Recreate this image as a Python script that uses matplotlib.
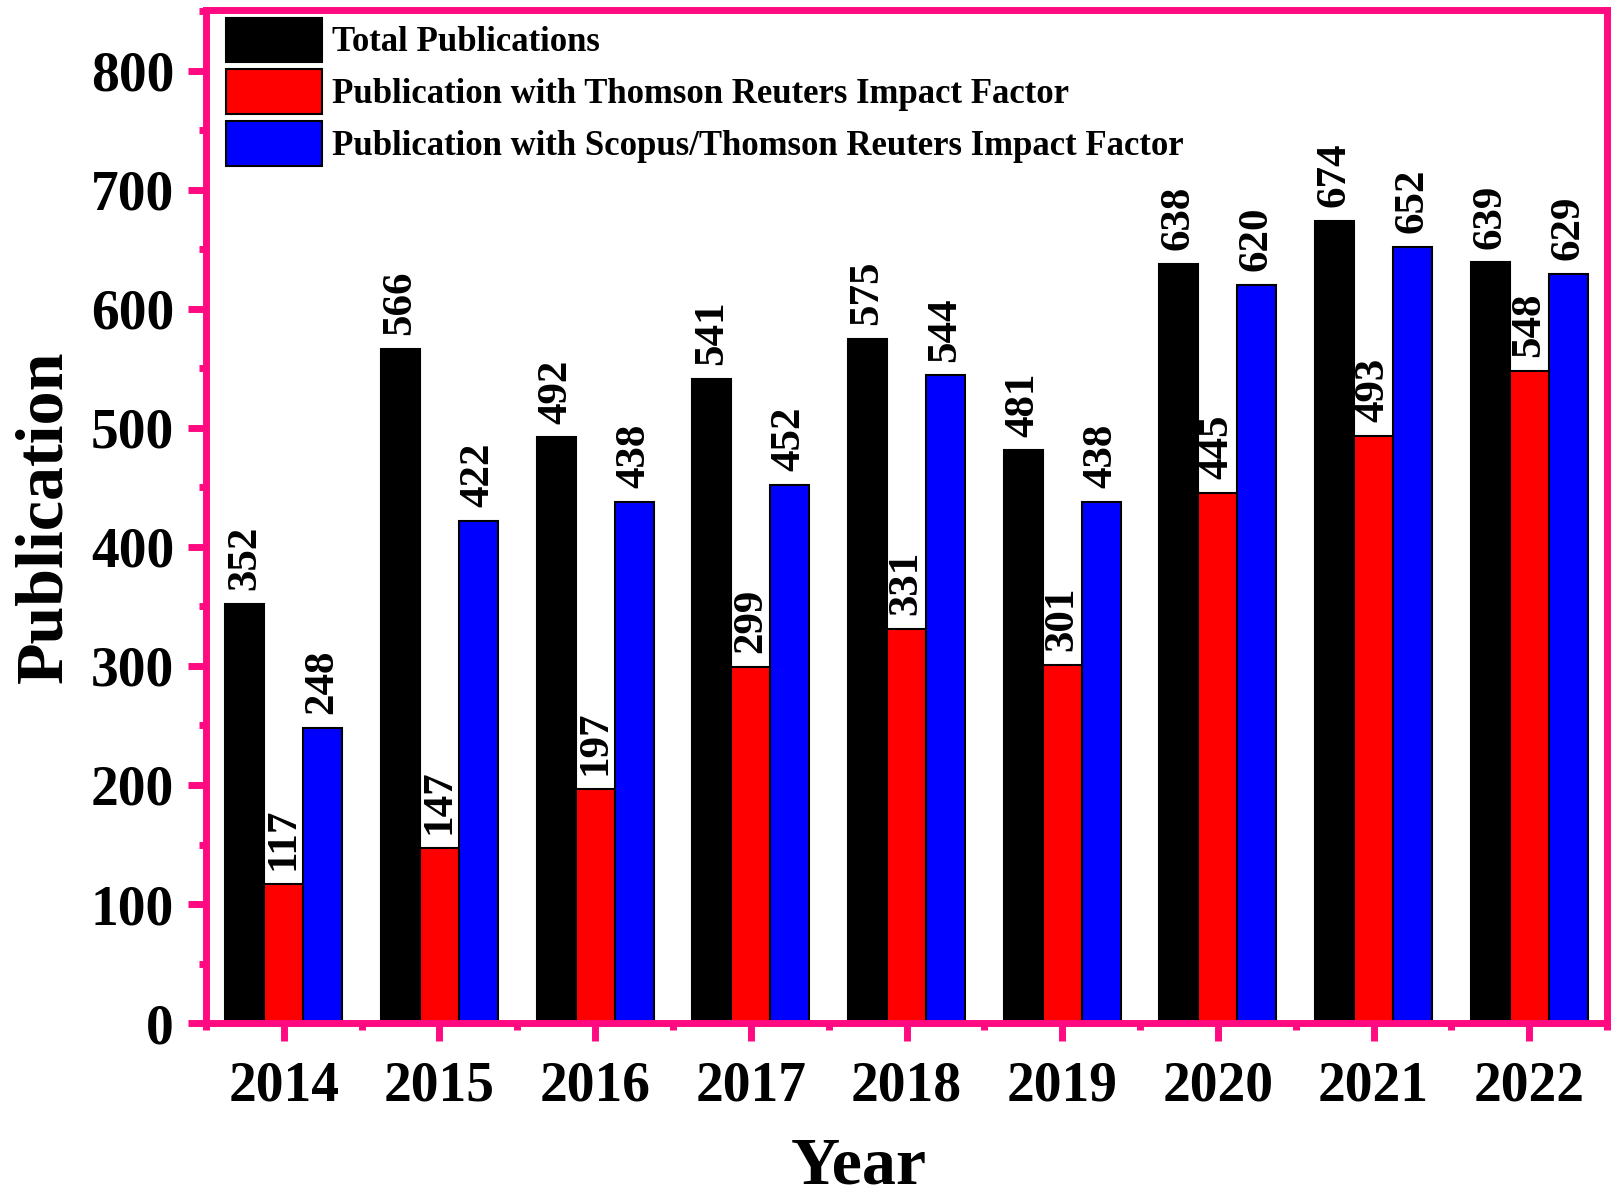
import matplotlib.pyplot as plt
import numpy as np
from matplotlib.ticker import MultipleLocator

plt.rcParams['font.family'] = ['Liberation Serif', 'DejaVu Serif']
plt.rcParams['font.weight'] = 'bold'

years = ['2014', '2015', '2016', '2017', '2018', '2019', '2020', '2021', '2022']
total = [352, 566, 492, 541, 575, 481, 638, 674, 639]
thomson = [117, 147, 197, 299, 331, 301, 445, 493, 548]
scopus = [248, 422, 438, 452, 544, 438, 620, 652, 629]

pink = '#FF0A80'
x = np.arange(len(years))
w = 0.25

fig = plt.figure(figsize=(16.14, 11.96), dpi=100)
ax = fig.add_axes([0.1276, 0.1446, 0.8681, 0.847])

series = [(total, 'black', 'Total Publications'),
          (thomson, 'red', 'Publication with Thomson Reuters Impact Factor'),
          (scopus, 'blue', 'Publication with Scopus/Thomson Reuters Impact Factor')]
for i, (vals, col, lab) in enumerate(series):
    bars = ax.bar(x + (i - 1) * w, vals, w, color=col, edgecolor='black',
                  linewidth=1.5, label=lab)
    ax.bar_label(bars, padding=10, rotation=90, fontsize=31, fontweight='bold')

ax.set_xlim(-0.5, 8.5)
ax.set_ylim(0, 851)
ax.set_xticks(x)
ax.set_xticklabels(years)
ax.xaxis.set_minor_locator(MultipleLocator(0.5))
ax.yaxis.set_major_locator(MultipleLocator(100))
ax.yaxis.set_minor_locator(MultipleLocator(50))

for s in ax.spines.values():
    s.set_color(pink)
    s.set_linewidth(5)
ax.tick_params(which='major', direction='out', length=13, width=5, color=pink,
               labelsize=40, pad=10)
ax.tick_params(which='minor', direction='out', length=5, width=5, color=pink)
ax.tick_params(axis='x', which='major', pad=14)

ax.set_xlabel('Year', fontsize=49, fontweight='bold')
ax.xaxis.set_label_coords(0.466, -0.112)
ax.set_ylabel('Publication', fontsize=49, fontweight='bold', labelpad=11)

ax.legend(loc='upper left', bbox_to_anchor=(0.0143, 0.9926), frameon=False,
          handlelength=2.76, handleheight=1.6, labelspacing=0.21,
          handletextpad=0.3, borderaxespad=0, borderpad=0,
          prop={'weight': 'bold', 'size': 25})

fig.savefig('out.png', dpi=100)
